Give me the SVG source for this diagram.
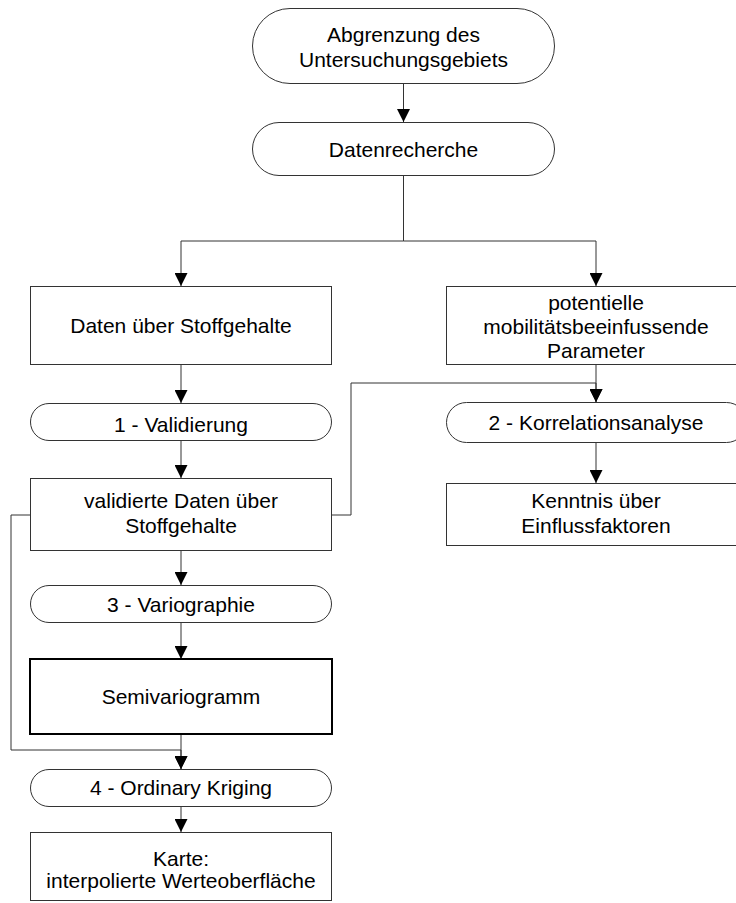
<svg xmlns="http://www.w3.org/2000/svg" width="736" height="903" viewBox="0 0 736 903">
<style>
.n{fill:#fff;stroke:#333;stroke-width:1}
.b{fill:#fff;stroke:#000;stroke-width:2}
.t{font-family:"Liberation Sans",Arial,sans-serif;font-size:21px;fill:#000;text-anchor:middle}
.c{fill:none;stroke:#333;stroke-width:1}
</style>
<defs>
<marker id="ah" markerUnits="userSpaceOnUse" markerWidth="13" markerHeight="13" refX="13" refY="6.5" orient="auto">
<path d="M0,0 L13,6.5 L0,13 z" fill="#000"/>
</marker>
</defs>
<rect width="736" height="903" fill="#fff"/>
<g id="connectors">
<path class="c" d="M403.5,83.5 V122" marker-end="url(#ah)"/>
<path class="c" d="M403.5,241 H181 V286" marker-end="url(#ah)"/>
<path class="c" d="M403.5,176 V241 H596 V286" marker-end="url(#ah)"/>
<path class="c" d="M181,365 V403" marker-end="url(#ah)"/>
<path class="c" d="M181,441 V478" marker-end="url(#ah)"/>
<path class="c" d="M596,365 V402" marker-end="url(#ah)"/>
<path class="c" d="M332,515 H351 V383 H596 V402" marker-end="url(#ah)"/>
<path class="c" d="M596,443 V483" marker-end="url(#ah)"/>
<path class="c" d="M181,551 V585" marker-end="url(#ah)"/>
<path class="c" d="M181,623 V659" marker-end="url(#ah)"/>
<path class="c" d="M181,734 V769" marker-end="url(#ah)"/>
<path class="c" d="M30,515 H11 V750 H181 V769" marker-end="url(#ah)"/>
<path class="c" d="M181,807 V832" marker-end="url(#ah)"/>
</g>
<g id="n1"><rect class="n" x="252.5" y="8.5" width="302" height="75" rx="37.5"/>
<text class="t" x="403.5" y="42">Abgrenzung des</text><text class="t" x="403.5" y="67">Untersuchungsgebiets</text></g>
<g id="n2"><rect class="n" x="252.5" y="122.5" width="302" height="53" rx="26.5"/>
<text class="t" x="403.5" y="157">Datenrecherche</text></g>
<g id="n3"><rect class="n" x="30.5" y="286.5" width="301" height="78"/>
<text class="t" x="181" y="333">Daten über Stoffgehalte</text></g>
<g id="n4"><rect class="n" x="446.5" y="286.5" width="300" height="78"/>
<text class="t" x="596" y="310">potentielle</text><text class="t" x="596" y="334">mobilitätsbeeinfussende</text><text class="t" x="596" y="358">Parameter</text></g>
<g id="n5"><rect class="n" x="30.5" y="403.5" width="301" height="37" rx="18.5"/>
<text class="t" x="181" y="432">1 - Validierung</text></g>
<g id="n6"><rect class="n" x="446.5" y="402.5" width="300" height="40" rx="20"/>
<text class="t" x="596" y="430">2 - Korrelationsanalyse</text></g>
<g id="n7"><rect class="n" x="30.5" y="478.5" width="301" height="72"/>
<text class="t" x="181" y="508">validierte Daten über</text><text class="t" x="181" y="533">Stoffgehalte</text></g>
<g id="n8"><rect class="n" x="446.5" y="483.5" width="300" height="62"/>
<text class="t" x="596" y="508">Kenntnis über</text><text class="t" x="596" y="533">Einflussfaktoren</text></g>
<g id="n9"><rect class="n" x="30.5" y="585.5" width="301" height="37" rx="18.5"/>
<text class="t" x="181" y="612">3 - Variographie</text></g>
<g id="n10"><rect class="b" x="30" y="659" width="302" height="75"/>
<text class="t" x="181" y="704">Semivariogramm</text></g>
<g id="n11"><rect class="n" x="30.5" y="769.5" width="301" height="37" rx="18.5"/>
<text class="t" x="181" y="795">4 - Ordinary Kriging</text></g>
<g id="n12"><rect class="n" x="30.5" y="832.5" width="301" height="68"/>
<text class="t" x="181" y="866">Karte:</text><text class="t" x="181" y="888">interpolierte Werteoberfläche</text></g>
</svg>
